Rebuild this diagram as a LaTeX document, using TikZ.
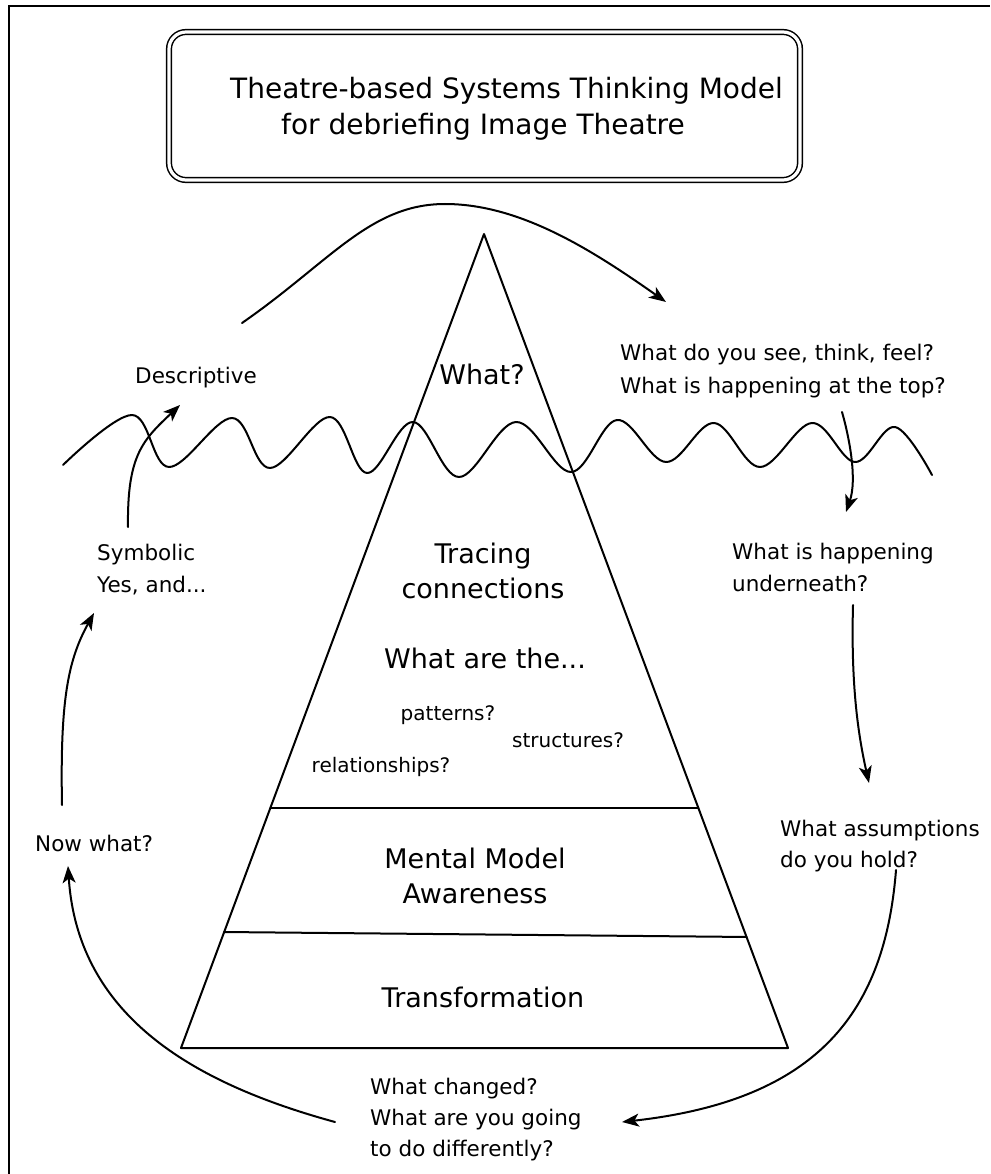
\documentclass[tikz,border=0pt]{standalone}
\usepackage{fontspec}
\setmainfont{DejaVu Sans}
\usetikzlibrary{arrows.meta,calc}

\begin{document}
\begin{tikzpicture}[x=1pt,y=-1pt,
  line/.style={line width=2pt, line cap=round, line join=round},
  flow/.style={line width=2pt, line cap=round, -{Stealth[length=17pt,width=13pt,inset=4.5pt]}},
  small/.style={inner sep=0pt, font=\fontsize{21.5}{32}\selectfont, align=left},
  big/.style={inner sep=0pt, font=\fontsize{27}{35}\selectfont, align=center},
  mid/.style={inner sep=0pt, font=\fontsize{20}{24}\selectfont},
]
\useasboundingbox (0,0) rectangle (990,1174);

% page frame (top and left rules)
\draw[line width=2.8pt] (9,1174) -- (9,6) -- (990,6);

% title box with double rounded border
\node[draw, double, double distance=3.2pt, line width=1.5pt, rounded corners=17pt,
      minimum width=631pt, minimum height=148pt, inner sep=0pt] (titlebox) at (484.5,106) {};
\node[inner sep=0pt, font=\fontsize{28}{36.5}\selectfont, align=center, anchor=north]
  (titletext) at (506.5,77) {Theatre-based Systems Thinking Model\\\hspace*{-47pt}for debriefing Image Theatre};

% pyramid
\coordinate (apex) at (484,234);
\coordinate (bl) at (181,1048);
\coordinate (br) at (788,1048);
\draw[line] (apex) -- (bl) -- (br) -- cycle;
\draw[line] ($(apex)!0.705!(bl)$) -- ($(apex)!0.705!(br)$);
\draw[line] ($(apex)!0.8575!(bl)$) -- ($(apex)!0.8636!(br)$);

% waterline
\draw[line] plot[smooth, tension=0.6] coordinates {
  (63,465) (132,415) (169,467) (232,418) (270,468) (330,417) (367,473)
  (413,422) (459,477) (516,422) (571,472) (617,420) (666,462) (714,423)
  (760,467) (812,423) (855,462) (895,427) (932,475)};

% labels
\node[small, anchor=north west] (desc) at (135,366.5) {Descriptive};
\node[small, anchor=north west, font=\fontsize{21.5}{33}\selectfont] (see) at (620,343.5)
  {What do you see, think, feel?\\What is happening at the top?};
\node[small, anchor=north west] (symb) at (97,543.5) {Symbolic\\Yes, and...};
\node[small, anchor=north west] (under) at (732,542.5) {What is happening\\underneath?};
\node[small, anchor=north west, font=\fontsize{21.5}{31}\selectfont] (assume) at (780,819.5)
  {What assumptions\\do you hold?};
\node[small, anchor=north west] (now) at (35,834.5) {Now what?};
\node[small, anchor=north west, font=\fontsize{21.5}{31}\selectfont] (changed) at (370,1077.5)
  {What changed?\\What are you going\\to do differently?};

\node[big, anchor=north] (what) at (482,363.3) {What?};
\node[big, anchor=north] (trace) at (483,542.3) {Tracing\\connections};
\node[big, anchor=north] (whatare) at (485,647.3) {What are the...};
\node[big, anchor=north] (mental) at (475,847.3) {Mental Model\\Awareness};
\node[big, anchor=north] (transf) at (483,986.3) {Transformation};

\node[mid, anchor=north] (patt) at (448,705) {patterns?};
\node[mid, anchor=north] (struct) at (568,732) {structures?};
\node[mid, anchor=north] (rel) at (381,757) {relationships?};

% connector end points
\coordinate (arcS) at (242,323);
\coordinate (arcE) at (666,302);
\coordinate (symbTop) at (128,527);
\coordinate (descTip) at (180,405);
\coordinate (nowTop) at (62,805);
\coordinate (symbTip) at (94,613);
\coordinate (chgL) at (335,1122);
\coordinate (nowTip) at (68,866);
\coordinate (assumeB) at (896,870);
\coordinate (chgTip) at (622,1122);
\coordinate (underB) at (853,605);
\coordinate (assumeTip) at (869,783);
\coordinate (seeB) at (842,412);
\coordinate (underTip) at (846,512);

% cycle of arrows
\draw[flow] (arcS) .. controls (330,262) and (370,204) .. (445,204)
                   .. controls (520,204) and (592,250) .. (arcE);
\draw[flow] (seeB) .. controls (850,440) and (857,480) .. (underTip);
\draw[flow] (underB) .. controls (851,680) and (857,730) .. (assumeTip);
\draw[flow] (assumeB) .. controls (885,1010) and (820,1100) .. (chgTip);
\draw[flow] (chgL) .. controls (200,1085) and (78,1020) .. (nowTip);
\draw[flow] (nowTop) .. controls (60,700) and (68,660) .. (symbTip);
\draw[flow] (symbTop) .. controls (127,455) and (143,440) .. (descTip);
\end{tikzpicture}
\end{document}
